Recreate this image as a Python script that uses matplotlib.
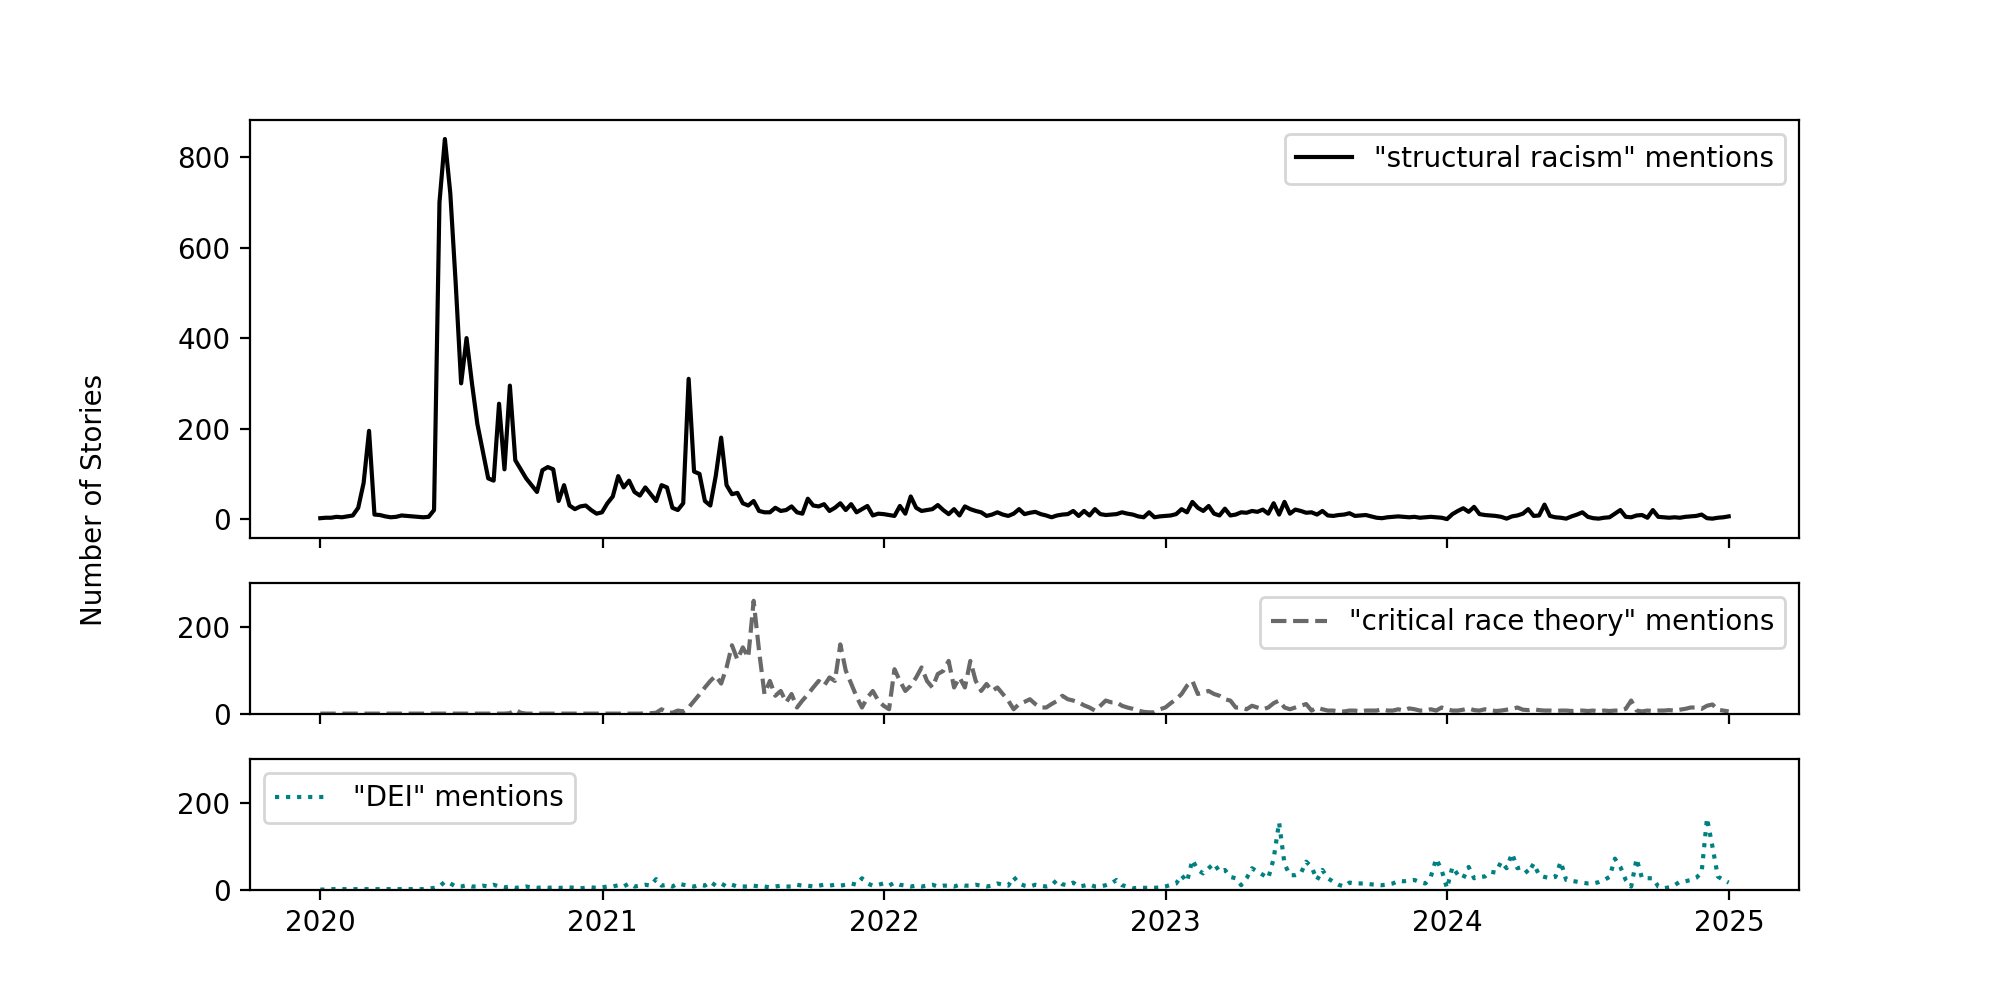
import numpy as np
import pandas as pd
import matplotlib
matplotlib.use('Agg')
import matplotlib.pyplot as plt
import matplotlib.dates as mdates

# weekly story counts, Jan 2020 - Dec 2024
structural_racism = [
    2, 3, 3, 5, 4, 6, 8, 25, 80, 195,
    10, 9, 6, 4, 5, 8, 7, 6, 5, 4,
    5, 20, 700, 840, 720, 520, 300, 400, 300, 210,
    150, 90, 85, 255, 110, 295, 130, 110, 90, 75,
    60, 108, 115, 110, 40, 75, 30, 22, 28, 30,
    20, 12, 15, 35, 50, 95, 70, 85, 60, 52,
    70, 55, 40, 75, 70, 25, 20, 35, 310, 105,
    100, 40, 30, 95, 180, 75, 55, 58, 35, 30,
    40, 18, 15, 15, 25, 18, 20, 28, 15, 12,
    45, 30, 28, 33, 18, 25, 35, 20, 33, 15,
    22, 29, 8, 12, 11, 9, 7, 29, 12, 50,
    25, 18, 20, 22, 31, 20, 11, 22, 8, 28,
    22, 18, 15, 7, 10, 15, 10, 7, 12, 22,
    11, 14, 16, 11, 8, 4, 8, 10, 11, 18,
    7, 18, 8, 22, 11, 9, 10, 11, 15, 12,
    10, 6, 4, 15, 4, 6, 7, 8, 11, 22,
    15, 38, 25, 18, 29, 12, 8, 23, 8, 10,
    15, 14, 18, 16, 21, 12, 35, 10, 38, 12,
    21, 18, 14, 15, 10, 18, 8, 7, 9, 10,
    13, 7, 8, 9, 6, 3, 2, 4, 5, 6,
    5, 4, 5, 3, 4, 5, 4, 3, 0, 11,
    18, 24, 16, 27, 11, 9, 8, 7, 5, 1,
    6, 8, 12, 22, 7, 8, 32, 7, 4, 3,
    1, 6, 10, 15, 5, 2, 1, 3, 4, 12,
    20, 5, 4, 8, 9, 3, 20, 5, 4, 3,
    4, 3, 5, 6, 7, 10, 2, 1, 3, 4,
    6,
]

critical_race_theory = [
    1, 1, 1, 1, 1, 1, 1, 1, 1, 1,
    1, 1, 1, 1, 1, 1, 1, 1, 1, 1,
    1, 1, 1, 1, 1, 1, 1, 1, 1, 1,
    1, 1, 1, 1, 1, 2, 10, 3, 1, 1,
    1, 1, 1, 1, 1, 1, 1, 1, 1, 1,
    1, 1, 1, 1, 1, 1, 1, 1, 1, 1,
    2, 2, 3, 11, 4, 3, 8, 6, 15, 30,
    45, 61, 76, 88, 70, 107, 158, 125, 153, 130,
    260, 145, 46, 76, 42, 53, 27, 46, 15, 31,
    45, 61, 76, 65, 84, 76, 160, 100, 70, 40,
    15, 38, 53, 31, 19, 11, 103, 76, 53, 65,
    84, 107, 76, 61, 92, 99, 122, 61, 84, 61,
    122, 76, 53, 69, 53, 61, 46, 31, 11, 23,
    28, 34, 23, 15, 15, 23, 30, 42, 34, 31,
    27, 20, 15, 8, 19, 31, 27, 27, 19, 15,
    12, 8, 5, 4, 4, 11, 15, 25, 34, 46,
    65, 76, 46, 50, 53, 46, 42, 34, 31, 15,
    15, 11, 19, 15, 11, 15, 25, 31, 15, 11,
    15, 19, 23, 8, 15, 11, 8, 8, 6, 6,
    8, 8, 6, 8, 8, 8, 11, 8, 8, 11,
    8, 13, 11, 8, 8, 11, 8, 15, 11, 8,
    8, 10, 13, 9, 8, 11, 9, 7, 8, 10,
    12, 15, 10, 9, 11, 9, 8, 8, 7, 8,
    8, 7, 8, 8, 7, 8, 6, 8, 7, 8,
    8, 12, 31, 8, 6, 8, 7, 8, 8, 9,
    8, 10, 12, 15, 15, 12, 19, 22, 10, 8,
    6,
]

dei = [
    1, 1, 2, 2, 2, 2, 2, 2, 2, 2,
    2, 2, 2, 2, 2, 2, 2, 2, 2, 2,
    3, 5, 8, 19, 15, 8, 8, 11, 8, 8,
    10, 8, 12, 8, 6, 8, 5, 6, 8, 6,
    5, 6, 5, 6, 5, 5, 6, 5, 4, 5,
    6, 5, 6, 8, 8, 11, 8, 15, 8, 10,
    12, 10, 25, 10, 12, 8, 15, 12, 10, 8,
    12, 10, 19, 10, 15, 8, 12, 8, 8, 8,
    10, 8, 8, 6, 8, 10, 8, 8, 12, 10,
    10, 8, 10, 12, 10, 12, 10, 12, 15, 12,
    27, 15, 10, 12, 15, 10, 17, 12, 10, 8,
    10, 8, 10, 12, 8, 10, 10, 8, 12, 10,
    10, 12, 10, 8, 10, 15, 12, 10, 30, 15,
    10, 8, 12, 10, 8, 11, 23, 13, 11, 17,
    8, 10, 13, 8, 8, 11, 15, 23, 11, 8,
    4, 5, 5, 5, 5, 6, 8, 12, 15, 34,
    19, 69, 46, 38, 50, 61, 42, 46, 30, 27,
    11, 27, 50, 42, 35, 27, 72, 155, 60, 34,
    34, 38, 65, 53, 23, 46, 27, 19, 12, 8,
    17, 15, 15, 15, 13, 12, 11, 13, 15, 21,
    20, 22, 23, 18, 15, 30, 72, 46, 4, 53,
    35, 27, 53, 27, 30, 31, 42, 40, 65, 50,
    84, 50, 53, 38, 61, 34, 30, 27, 30, 65,
    23, 21, 19, 17, 15, 15, 18, 23, 30, 72,
    53, 23, 8, 72, 27, 27, 27, 8, 4, 6,
    11, 19, 20, 23, 28, 40, 165, 100, 31, 23,
    17,
]

dates = pd.date_range('2020-01-01', '2024-12-31', periods=len(structural_racism))

fig, (ax1, ax2, ax3) = plt.subplots(
    3, 1, sharex=True, figsize=(1999 / 200, 1000 / 200), dpi=200,
    gridspec_kw={'height_ratios': [3.2, 1, 1]})

ax1.plot(dates, structural_racism, color='black', label='"structural racism" mentions')
ax1.legend(loc='upper right')

ax2.plot(dates, critical_race_theory, color='dimgray', linestyle='--',
         label='"critical race theory" mentions')
ax2.set_ylim(0, 300)
ax2.set_yticks([0, 200])
ax2.legend(loc='upper right')

ax3.plot(dates, dei, color='teal', linestyle=':', label='"DEI" mentions')
ax3.set_ylim(0, 300)
ax3.set_yticks([0, 200])
ax3.legend(loc='upper left')

ax3.xaxis.set_major_locator(mdates.YearLocator())
ax3.xaxis.set_major_formatter(mdates.DateFormatter('%Y'))

fig.text(0.04, 0.5, 'Number of Stories', va='center', rotation='vertical')

plt.savefig('out.png', dpi=200)
